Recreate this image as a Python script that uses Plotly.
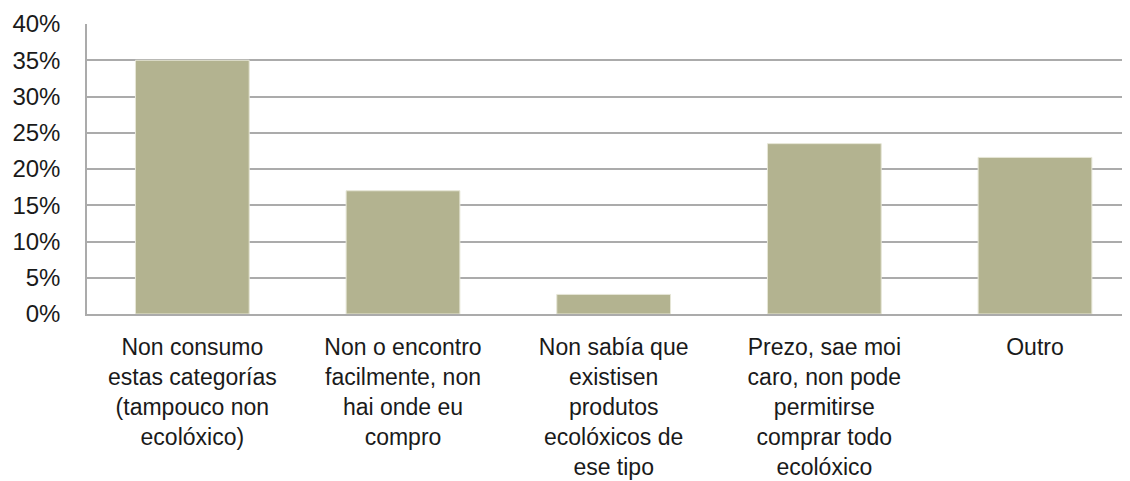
import plotly.graph_objects as go

categories = [
    "Non consumo<br>estas categorías<br>(tampouco non<br>ecolóxico)",
    "Non o encontro<br>facilmente, non<br>hai onde eu<br>compro",
    "Non sabía que<br>existisen<br>produtos<br>ecolóxicos de<br>ese tipo",
    "Prezo, sae moi<br>caro, non pode<br>permitirse<br>comprar todo<br>ecolóxico",
    "Outro",
]
values = [0.35, 0.17, 0.027, 0.235, 0.216]
y_ticks = [0, 0.05, 0.10, 0.15, 0.20, 0.25, 0.30, 0.35, 0.40]

x_idx = list(range(len(categories)))

fig = go.Figure()
fig.add_trace(go.Bar(
    x=x_idx,
    y=values,
    marker=dict(color="#B3B390", line=dict(color="#E6E6D6", width=1)),
    width=0.54,
    hoverinfo="skip",
))

FONT = "Liberation Sans, Arial, sans-serif"

# the page body has an 8px default margin, so the figure is sized to fill the
# remaining 1122 x 473 area of the 1130 x 481 window
fig.update_layout(
    width=1122,
    height=473,
    margin=dict(l=79, r=0, t=16, b=167),
    paper_bgcolor="white",
    plot_bgcolor="white",
    showlegend=False,
    font=dict(family=FONT, size=24, color="#1a1a1a"),
    xaxis=dict(
        range=[-0.5, 4.451],
        tickmode="array",
        tickvals=x_idx,
        ticktext=categories,
        showgrid=False,
        showline=True,
        linecolor="#ABABAB",
        linewidth=1.5,
        ticks="",
        tickfont=dict(family=FONT, size=23, color="#1a1a1a"),
        ticklabelstandoff=12,
        zeroline=False,
        automargin=False,
    ),
    yaxis=dict(
        range=[0, 0.40],
        tickmode="array",
        tickvals=y_ticks,
        tickformat=".0%",
        showgrid=True,
        gridcolor="#ABABAB",
        gridwidth=1.5,
        showline=True,
        linecolor="#ABABAB",
        linewidth=1.5,
        ticks="",
        tickfont=dict(family=FONT, size=24, color="#1a1a1a"),
        ticklabelstandoff=20,
        zeroline=False,
        automargin=False,
    ),
)

fig.write_html("out.html")
